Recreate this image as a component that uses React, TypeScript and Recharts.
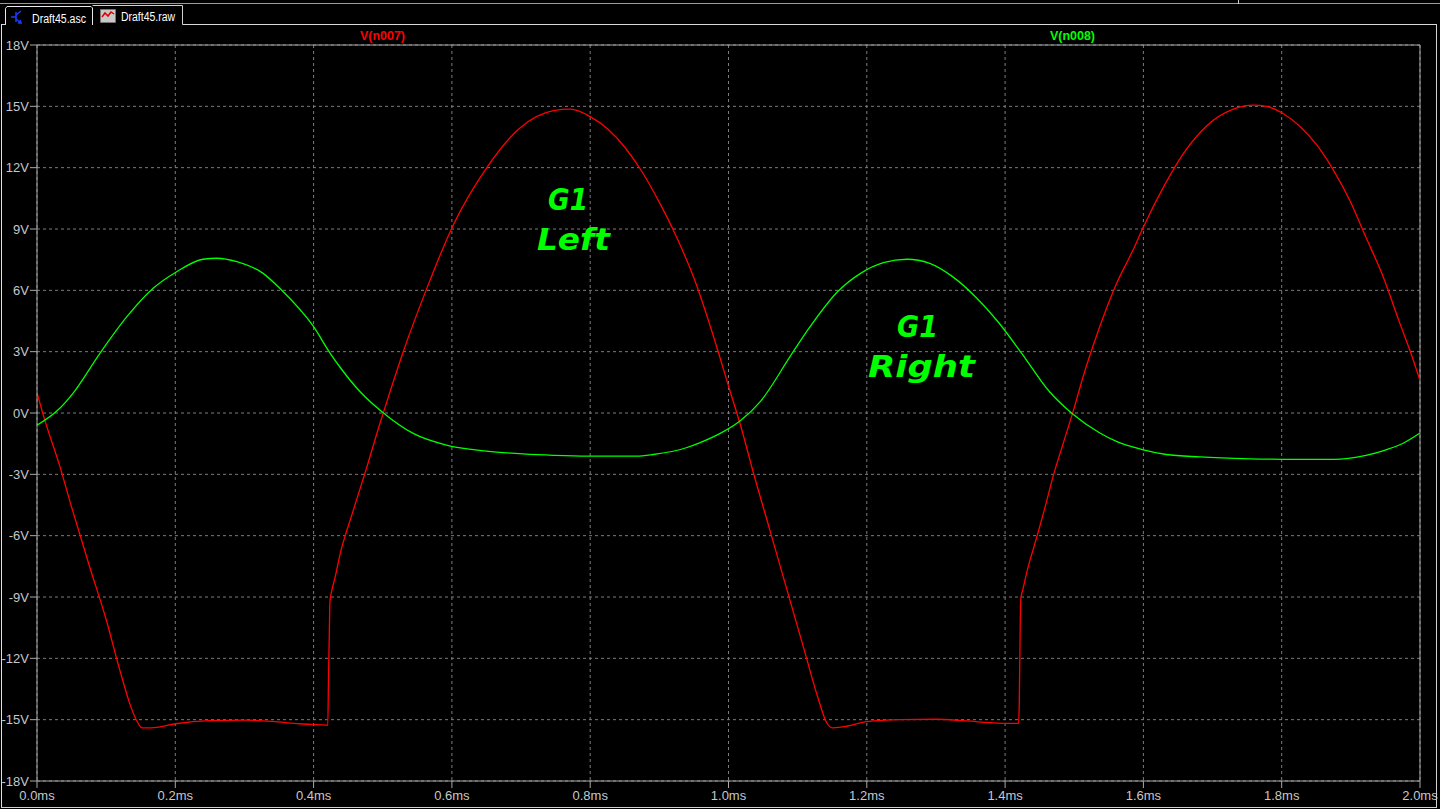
import React from "react";
import { LineChart, Line, XAxis, YAxis, CartesianGrid, ReferenceLine } from "recharts";

// time in ms, voltage in V
const redTime = [
  0.0, 0.01, 0.033, 0.05, 0.075, 0.1, 0.12, 0.135, 0.145, 0.152, 0.165, 0.2, 0.25, 0.3, 0.34, 0.38,
  0.41, 0.4205, 0.4215, 0.4227, 0.4237, 0.4262, 0.431, 0.438, 0.457, 0.477, 0.496, 0.506, 0.53,
  0.564, 0.602, 0.65, 0.698, 0.747, 0.771, 0.8, 0.825, 0.85, 0.875, 0.9, 0.925, 0.95, 0.975,
  1.002, 1.018, 1.035, 1.06, 1.085, 1.11, 1.13, 1.142, 1.15, 1.165, 1.2, 1.25, 1.3, 1.34, 1.38,
  1.405, 1.4195, 1.4205, 1.422, 1.423, 1.4255, 1.431, 1.436, 1.441, 1.458, 1.47, 1.484,
  1.499, 1.513, 1.533, 1.561, 1.585, 1.6, 1.629, 1.658, 1.691, 1.73, 1.759, 1.778, 1.802, 1.826,
  1.851, 1.875, 1.898, 1.922, 1.946, 1.97, 1.99, 2.0,
];
const redVolts = [
  1.0, -0.2, -2.6, -4.6, -7.4, -10.1, -12.6, -14.3, -15.1, -15.4, -15.4, -15.2, -15.05, -15.02,
  -15.08, -15.2, -15.25, -15.27, -13.0, -10.8, -9.2, -8.7, -8.05, -6.95, -4.8, -2.65, -0.5, 0.56,
  3.03, 6.12, 9.2, 11.98, 13.93, 14.79, 14.86, 14.5, 13.9, 13.0, 11.8, 10.3, 8.6, 6.6, 4.1, 1.1,
  -0.67, -2.8, -5.75, -8.7, -11.65, -14.0, -15.15, -15.4, -15.35, -15.1, -15.0, -14.98, -15.05,
  -15.15, -15.18, -15.18, -14.2, -10.04, -9.0, -8.66, -7.84, -7.2, -6.63, -4.58, -3.03,
  -1.49, 0.15, 1.8, 3.85, 6.32, 7.97, 9.1, 11.05, 12.7, 14.03, 14.86, 15.06, 15.0, 14.65, 14.03,
  13.1, 11.87, 10.43, 8.58, 6.73, 4.47, 2.62, 1.59,
];

const greenTime = [
  0.0, 0.033, 0.052, 0.091, 0.13, 0.168, 0.202, 0.24, 0.26, 0.289, 0.327, 0.351, 0.4, 0.424, 0.438,
  0.467, 0.501, 0.544, 0.592, 0.65, 0.703, 0.747, 0.795, 0.867, 0.891, 0.939, 0.959, 0.988, 1.017,
  1.046, 1.092, 1.118, 1.158, 1.191, 1.224, 1.258, 1.291, 1.324, 1.357, 1.39, 1.424, 1.464, 1.496,
  1.537, 1.561, 1.6, 1.633, 1.682, 1.754, 1.826, 1.875, 1.922, 1.951, 1.975, 2.0,
];
const greenVolts = [
  -0.6, 0.23, 0.96, 2.92, 4.71, 6.1, 6.91, 7.52, 7.57, 7.4, 6.83, 6.1, 4.22, 2.92, 2.25, 1.05, 0.0,
  -1.0, -1.57, -1.86, -2.0, -2.07, -2.11, -2.11, -2.03, -1.7, -1.45, -1.0, -0.38, 0.56, 2.92, 4.22,
  5.94, 6.83, 7.35, 7.52, 7.32, 6.67, 5.69, 4.45, 2.92, 1.05, 0.0, -0.98, -1.39, -1.8, -2.03, -2.15,
  -2.24, -2.27, -2.27, -2.07, -1.8, -1.49, -0.98,
];

const timeTicks = [0, 0.2, 0.4, 0.6, 0.8, 1.0, 1.2, 1.4, 1.6, 1.8, 2.0];
const voltTicks = [-18, -15, -12, -9, -6, -3, 0, 3, 6, 9, 12, 15, 18];

const traceNames = ["V(n007)", "V(n008)"];
const tabNames = ["Draft45.asc", "Draft45.raw"];

const redData = redTime.map((t, i) => ({ t, v: redVolts[i] }));
const greenData = greenTime.map((t, i) => ({ t, v: greenVolts[i] }));

const RED = "#ff0000";
const GREEN = "#00ff00";
const FRAME = "#a8a8a8";
const LABEL = "#c4c8cc";
const sans = "'Liberation Sans', Arial, sans-serif";
const script = "'DejaVu Sans', sans-serif";

function Overlay() {
  return (
    <svg width={1440} height={809} style={{ position: "absolute", left: 0, top: 0, pointerEvents: "none" }}>
      {/* window chrome */}
      <line x1={0} y1={3.5} x2={1440} y2={3.5} stroke="#9a9a9a" />
      <line x1={1238.5} y1={0} x2={1238.5} y2={4} stroke="#d0d0d0" />
      <polyline points="5.5,25 5.5,8.5 7,6.5 91,6.5 92.5,8 92.5,25" fill="none" stroke="#e8e8e8" />
      <polyline points="92.5,5.5 182.5,5.5 182.5,24.5" fill="none" stroke="#d0d0d0" />
      <line x1={182.5} y1={24.5} x2={1437} y2={24.5} stroke="#d8d8d8" />
      <line x1={1} y1={24.5} x2={5.5} y2={24.5} stroke="#d8d8d8" />
      <line x1={1.5} y1={24.5} x2={1.5} y2={808} stroke="#e0e0e0" />
      <line x1={1436.5} y1={24.5} x2={1436.5} y2={808} stroke="#d0d0d0" />
      <line x1={1} y1={807.5} x2={1437} y2={807.5} stroke="#d0d0d0" />

      {/* schematic tab icon */}
      <g stroke="#1a3cff" strokeWidth={1.5} fill="none">
        <line x1={16} y1={12} x2={16} y2={22} />
        <line x1={11} y1={17} x2={16} y2={17} />
        <line x1={16} y1={15} x2={21} y2={11} />
        <line x1={16} y1={19} x2={21} y2={23} />
        <polyline points="18,23 21,23 20,20" />
      </g>
      <text x={32} y={22.5} fill="#ffffff" fontFamily={sans} fontSize={12} textLength={54} lengthAdjust="spacingAndGlyphs">
        {tabNames[0]}
      </text>

      {/* waveform tab icon */}
      <rect x={100.5} y={9.5} width={15} height={13} fill="#c8c8c8" stroke="#888" strokeDasharray="1 1" />
      <polyline points="102,17 105,13 108,16 111,12 114,14" fill="none" stroke="#e00000" strokeWidth={1.5} />
      <text x={121} y={20.7} fill="#ffffff" fontFamily={sans} fontSize={12} textLength={54} lengthAdjust="spacingAndGlyphs">
        {tabNames[1]}
      </text>

      {/* trace names */}
      <text x={360} y={40} fill={RED} fontFamily={sans} fontWeight="bold" fontSize={12} textLength={45} lengthAdjust="spacingAndGlyphs">
        {traceNames[0]}
      </text>
      <text x={1050} y={40} fill={GREEN} fontFamily={sans} fontWeight="bold" fontSize={12} textLength={45} lengthAdjust="spacingAndGlyphs">
        {traceNames[1]}
      </text>

      {/* annotations */}
      <g fill={GREEN} fontFamily={script} fontWeight="bold" fontStyle="italic" fontSize={30}>
        <text x={548} y={210} textLength={40} lengthAdjust="spacingAndGlyphs">G1</text>
        <text x={537} y={250} textLength={73} lengthAdjust="spacingAndGlyphs">Left</text>
        <text x={897} y={337} textLength={41} lengthAdjust="spacingAndGlyphs">G1</text>
        <text x={868} y={377} textLength={107} lengthAdjust="spacingAndGlyphs">Right</text>
      </g>
    </svg>
  );
}

export default function App() {
  return (
    <div style={{ position: "absolute", left: 0, top: 0, width: 1440, height: 809, background: "#000" }}>
      <LineChart width={1440} height={809} margin={{ top: 45, right: 20, bottom: 0, left: 0 }}>
        <CartesianGrid stroke="#7c7c7c" strokeDasharray="3 3" />
        <XAxis
          type="number"
          dataKey="t"
          domain={[0, 2]}
          ticks={timeTicks}
          allowDataOverflow
          height={28}
          tickSize={7}
          tickMargin={3}
          tickFormatter={(v: number) => `${v.toFixed(1)}ms`}
          stroke={FRAME}
          tick={{ fill: LABEL, fontSize: 13, fontFamily: sans }}
        />
        <YAxis
          type="number"
          domain={[-18, 18]}
          ticks={voltTicks}
          allowDataOverflow
          width={37}
          tickSize={7}
          tickMargin={1}
          tickFormatter={(v: number) => `${v}V`}
          stroke={FRAME}
          tick={{ fill: LABEL, fontSize: 13, fontFamily: sans }}
        />
        <ReferenceLine y={18} stroke={FRAME} />
        <ReferenceLine x={2} stroke={FRAME} />
        <Line data={redData} dataKey="v" type="monotone" stroke={RED} strokeWidth={1.3} dot={false} activeDot={false} isAnimationActive={false} />
        <Line data={greenData} dataKey="v" type="monotone" stroke={GREEN} strokeWidth={1.3} dot={false} activeDot={false} isAnimationActive={false} />
      </LineChart>
      <Overlay />
    </div>
  );
}
